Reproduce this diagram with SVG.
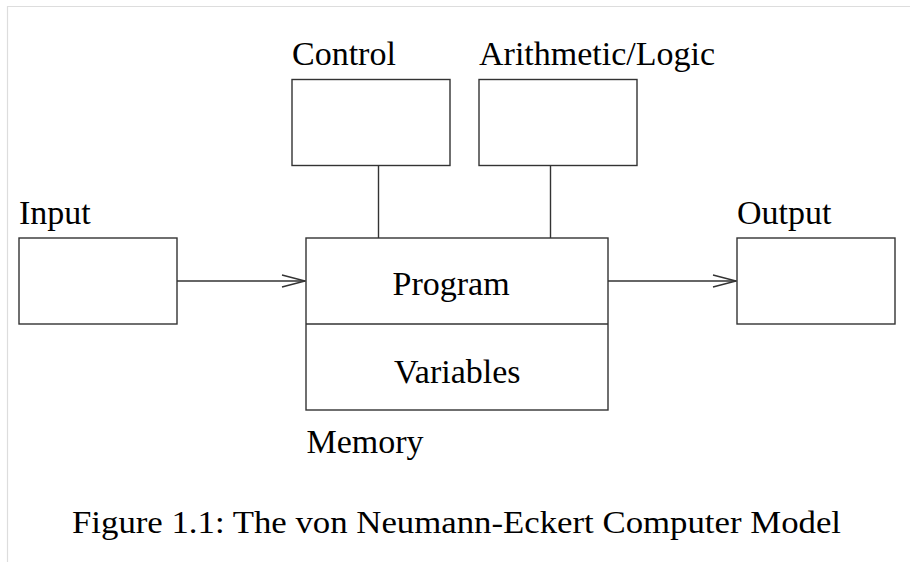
<svg xmlns="http://www.w3.org/2000/svg" width="910" height="562" viewBox="0 0 910 562">
  <style>
    .box { fill: #ffffff; stroke: #333333; stroke-width: 1.4; }
    .wire { fill: none; stroke: #333333; stroke-width: 1.4; }
    .label { font-family: "Liberation Serif", "Times New Roman", serif; font-size: 34px; fill: #000000; }
    .caption { font-family: "Liberation Serif", "Times New Roman", serif; font-size: 31px; fill: #000000; }
  </style>
  <defs>
    <marker id="open-arrow" markerWidth="26" markerHeight="14" refX="24" refY="7" orient="auto" markerUnits="userSpaceOnUse">
      <path d="M1,1 L24,7 L1,13" fill="none" stroke="#333333" stroke-width="1.4"/>
    </marker>
  </defs>

  <rect width="910" height="562" fill="#ffffff"/>
  <!-- page frame -->
  <path d="M7.5,562 V6.5 H910" fill="none" stroke="#dddddd" stroke-width="1.2"/>

  <g id="connectors">
    <line class="wire" x1="177" y1="281" x2="305" y2="281" marker-end="url(#open-arrow)"/>
    <line class="wire" x1="608" y1="281" x2="736" y2="281" marker-end="url(#open-arrow)"/>
    <line class="wire" x1="378.5" y1="165.5" x2="378.5" y2="238"/>
    <line class="wire" x1="550.5" y1="165.5" x2="550.5" y2="238"/>
  </g>

  <g id="control">
    <rect class="box" x="292" y="79.5" width="158" height="86"/>
    <text class="label" x="292" y="65">Control</text>
  </g>

  <g id="alu">
    <rect class="box" x="479" y="79.5" width="158" height="86"/>
    <text class="label" x="479" y="65">Arithmetic/Logic</text>
  </g>

  <g id="input">
    <rect class="box" x="19" y="238" width="158" height="86"/>
    <text class="label" x="19" y="224">Input</text>
  </g>

  <g id="output">
    <rect class="box" x="737" y="238" width="158" height="86"/>
    <text class="label" x="737" y="224">Output</text>
  </g>

  <g id="memory">
    <rect class="box" x="306" y="238" width="302" height="172"/>
    <line class="wire" x1="306" y1="324" x2="608" y2="324"/>
    <text class="label" x="392.5" y="295">Program</text>
    <text class="label" x="394" y="383">Variables</text>
    <text class="label" x="306.5" y="453">Memory</text>
  </g>

  <text class="caption" x="72" y="533" textLength="769" lengthAdjust="spacingAndGlyphs">Figure 1.1: The von Neumann-Eckert Computer Model</text>
</svg>
